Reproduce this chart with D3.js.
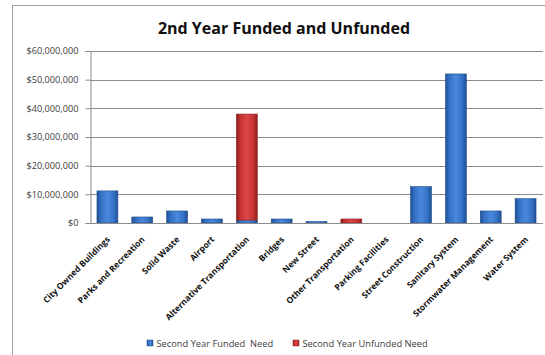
<!DOCTYPE html>
<html><head><meta charset="utf-8">
<script src="https://cdn.jsdelivr.net/npm/d3@7"></script>
<style>body{margin:0;background:#fff}svg{display:block}</style>
</head><body><svg id="c" width="545" height="355"></svg>
<script>
const categories = ["City Owned Buildings","Parks and Recreation","Solid Waste","Airport","Alternative Transportation","Bridges","New Street","Other Transportation","Parking Facilities","Street Construction","Sanitary System","Stormwater Management","Water System"];
const funded = [11200000,2100000,4200000,1400000,1000000,1400000,500000,0,0,12700000,52000000,4200000,8500000];
const unfunded = [0,0,0,0,37000000,0,0,1400000,0,0,0,0,0];
const yTicks = [0,10000000,20000000,30000000,40000000,50000000,60000000];
const seriesNames = ["Second Year Funded  Need","Second Year Unfunded Need"];

const svg = d3.select("#c");
const defs = svg.append("defs");
function grad(id, dark, mid, light){
  const g = defs.append("linearGradient").attr("id",id).attr("x1","0").attr("x2","1").attr("y1","0").attr("y2","0");
  g.append("stop").attr("offset","0%").attr("stop-color",dark);
  g.append("stop").attr("offset","20%").attr("stop-color",mid);
  g.append("stop").attr("offset","50%").attr("stop-color",light);
  g.append("stop").attr("offset","80%").attr("stop-color",mid);
  g.append("stop").attr("offset","100%").attr("stop-color",dark);
}
grad("gb","#1f4f94","#3572c6","#4a88dc");
grad("gr","#8e1d1d","#c83434","#dc4646");

svg.append("rect").attr("x",12.5).attr("y",5.5).attr("width",560).attr("height",360).attr("fill","none").attr("stroke","#a0a0a0");

const pLeft=90, pRight=543, pTop=51, pBottom=223;
const x = d3.scaleBand().domain(categories).range([pLeft,pRight]).paddingInner(0.4).paddingOuter(0.2);
const y = d3.scaleLinear().domain([0,60000000]).range([pBottom,pTop]);

// grid
svg.append("g").selectAll("line").data(yTicks.slice(1)).join("line")
  .attr("x1",pLeft).attr("x2",pRight).attr("y1",d=>Math.round(y(d))+0.5).attr("y2",d=>Math.round(y(d))+0.5)
  .attr("stroke","#8c8c8c");

const yAxis = svg.append("g").attr("transform",`translate(${pLeft+0.5},0)`)
  .call(d3.axisLeft(y).tickValues(yTicks).tickSize(5).tickFormat(d=>"$"+d3.format(",")(d)));
yAxis.select(".domain").attr("stroke","#8c8c8c");
yAxis.selectAll(".tick line").attr("stroke","#8c8c8c");
yAxis.selectAll("text").attr("font-family","'Open Sans', sans-serif").attr("font-size","9.2px").attr("fill","#404040").attr("x",-12);

// stacked bars
const stackData = categories.map((c,i)=>({c, f:funded[i], u:unfunded[i]}));
const stack = d3.stack().keys(["f","u"])(stackData);
const fills = ["url(#gb)","url(#gr)"];
const strokes = ["#24508c","#8a2020"];
stack.forEach((s,k)=>{
  svg.append("g").selectAll("rect").data(s.filter(d=>d[1]-d[0]>0)).join("rect")
    .attr("x",d=>x(d.data.c)).attr("width",x.bandwidth())
    .attr("y",d=>y(d[1])).attr("height",d=>y(d[0])-y(d[1]))
    .attr("fill",fills[k]).attr("stroke",strokes[k]).attr("stroke-width",0.6);
});

// baseline
svg.append("line").attr("x1",pLeft).attr("x2",pRight).attr("y1",pBottom+0.5).attr("y2",pBottom+0.5).attr("stroke","#8c8c8c");

// x labels
svg.append("g").selectAll("text").data(categories).join("text")
  .attr("transform",d=>`translate(${x(d)+x.bandwidth()/2+3},${pBottom+17}) rotate(-45)`)
  .attr("text-anchor","end")
  .attr("font-family","'Open Sans', sans-serif").attr("font-weight","bold").attr("font-size","8.5px").attr("fill","#111")
  .text(d=>d);

// title
svg.append("text").attr("x",284).attr("y",34).attr("text-anchor","middle")
  .attr("font-family","'Open Sans', sans-serif").attr("font-weight","bold").attr("font-size","16px").attr("fill","#111")
  .text("2nd Year Funded and Unfunded");

// legend
const legX=[147,293];
const lg = svg.append("g").selectAll("g").data(seriesNames).join("g").attr("transform",(d,i)=>`translate(${legX[i]},340)`);
lg.append("rect").attr("width",6).attr("height",6).attr("fill",(d,i)=>fills[i]).attr("stroke",(d,i)=>strokes[i]).attr("stroke-width",0.5);
lg.append("text").attr("x",9.5).attr("y",6.8).attr("font-family","'Open Sans', sans-serif").attr("font-size","9.3px").attr("fill","#404040")
  .attr("xml:space","preserve").style("white-space","pre").text(d=>d);
</script></body></html>
